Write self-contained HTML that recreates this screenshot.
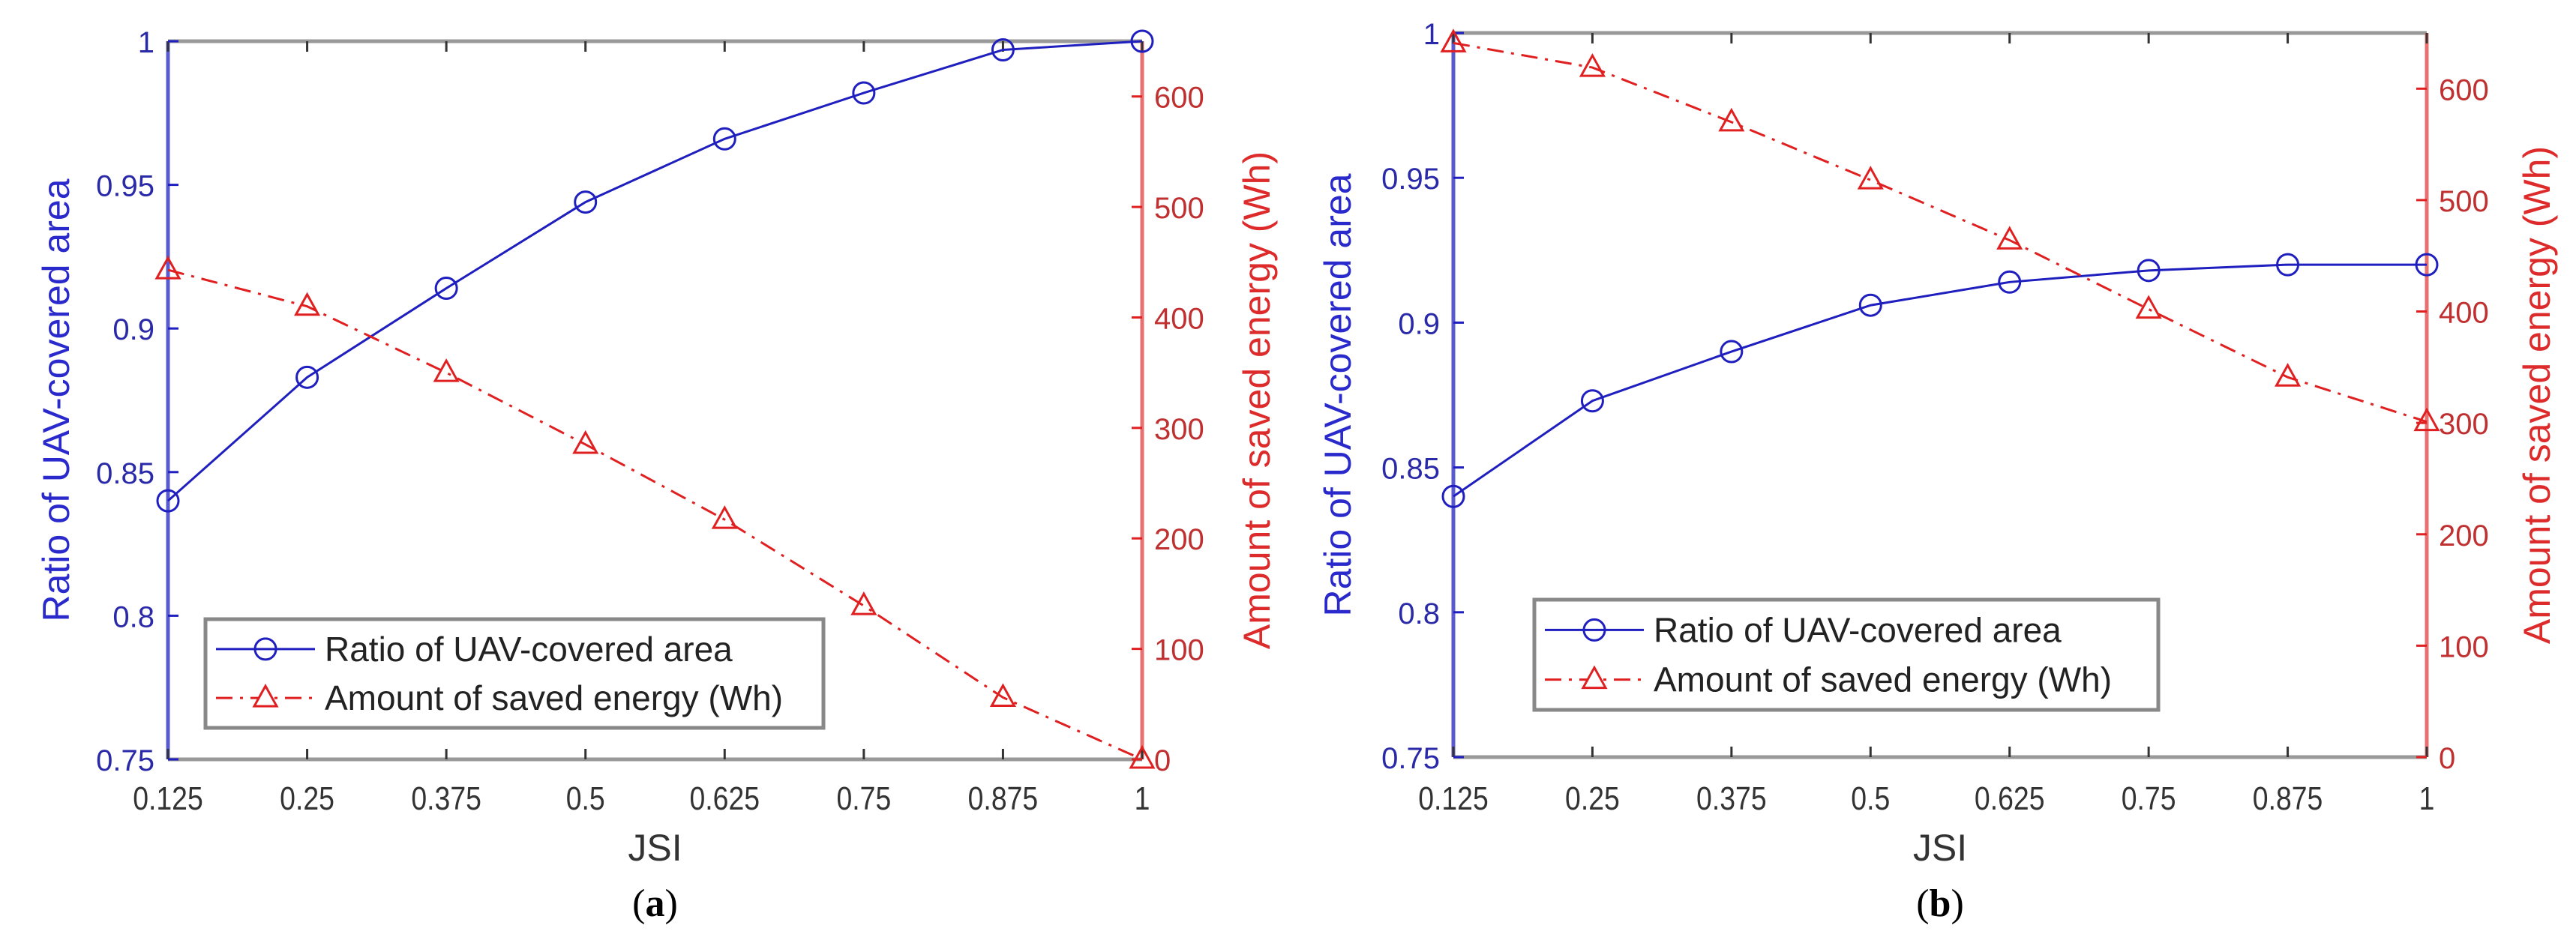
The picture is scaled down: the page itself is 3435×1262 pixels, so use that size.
<!DOCTYPE html>
<html><head><meta charset="utf-8"><style>
html,body{margin:0;padding:0;background:#fff;}
svg{display:block;font-family:"Liberation Sans",sans-serif;}
</style></head><body>
<svg id="fig" width="3435" height="1262" viewBox="0 0 3435 1262" xmlns="http://www.w3.org/2000/svg"></svg>
<script>
const categories = [0.125,0.25,0.375,0.5,0.625,0.75,0.875,1];
const xTickLabels = ["0.125","0.25","0.375","0.5","0.625","0.75","0.875","1"];
const leftTicks = [0.75,0.8,0.85,0.9,0.95,1];
const leftTickLabels = ["0.75","0.8","0.85","0.9","0.95","1"];
const rightTicks = [0,100,200,300,400,500,600];
const ratioA = [0.84,0.883,0.914,0.944,0.966,0.982,0.997,1.0];
const energyA = [443,410,350,285,217,139,56,0];
const ratioB = [0.84,0.873,0.89,0.906,0.914,0.918,0.92,0.92];
const energyB = [641,619,570,518,464,402,341,301];

const NS="http://www.w3.org/2000/svg";
const svg=document.getElementById('fig');
function mk(tag,attrs,parent,text){const e=document.createElementNS(NS,tag);for(const k in attrs)e.setAttribute(k,attrs[k]);if(text!==undefined)e.textContent=text;(parent||svg).appendChild(e);return e;}
const BLUE="#1f1fbf", RED="#e02020", LBLUE="#5a5ad0", LRED="#e87070";

function panel(id,x0,x1,y0,y1,ratio,energy,leg,labs,cap){
  const g=mk('g',{});
  
  
  const sx=v=>x0+(v-0.125)/(1-0.125)*(x1-x0);
  const sy=v=>y1-(v-0.75)/0.25*(y1-y0);
  const sr=v=>y1-v/650*(y1-y0);
  const top=mk('line',{x1:x0,y1:y0,x2:x1,y2:y0,stroke:"#999",'stroke-width':5},g);
  
  const bot=mk('line',{x1:x0,y1:y1,x2:x1,y2:y1,stroke:"#999",'stroke-width':5},g);
  
  const la=mk('line',{x1:x0,y1:y0,x2:x0,y2:y1,stroke:LBLUE,'stroke-width':5},g);
  
  const ra=mk('line',{x1:x1,y1:y0,x2:x1,y2:y1,stroke:LRED,'stroke-width':5},g);
  
  categories.forEach((c,i)=>{
    const X=sx(c);
    mk('line',{x1:X,y1:y1,x2:X,y2:y1-14,stroke:"#333",'stroke-width':3},g);
    mk('line',{x1:X,y1:y0,x2:X,y2:y0+14,stroke:"#333",'stroke-width':3},g);
    const t=mk('text',{x:X,y:1080,'font-size':44,fill:"#333",'text-anchor':'middle',transform:`translate(${X},0) scale(0.85,1) translate(${-X},0)`},g,xTickLabels[i]);
    
  });
  leftTicks.forEach((v,i)=>{
    const Y=sy(v);
    mk('line',{x1:x0,y1:Y,x2:x0+14,y2:Y,stroke:BLUE,'stroke-width':3},g);
    const t=mk('text',{x:x0-18,y:Y+15,'font-size':40,fill:"#2a2aa8",'text-anchor':'end'},g,leftTickLabels[i]);
    
  });
  rightTicks.forEach(v=>{
    const Y=sr(v);
    mk('line',{x1:x1,y1:Y,x2:x1-14,y2:Y,stroke:RED,'stroke-width':3},g);
    const t=mk('text',{x:x1+16,y:Y+15,'font-size':40,fill:"#c03030",'text-anchor':'start'},g,String(v));
    
  });
  const bl=mk('polyline',{points:categories.map((c,i)=>sx(c)+','+sy(ratio[i])).join(' '),fill:'none',stroke:BLUE,'stroke-width':3},g);
  
  const rl=mk('polyline',{points:categories.map((c,i)=>sx(c)+','+sr(energy[i])).join(' '),fill:'none',stroke:RED,'stroke-width':3,'stroke-dasharray':'22,10,4,10'},g);
  
  categories.forEach((c,i)=>{
    const m=mk('circle',{cx:sx(c),cy:sy(ratio[i]),r:14,fill:'none',stroke:BLUE,'stroke-width':3},g);
    
    const X=sx(c),Y=sr(energy[i]);
    const p=mk('polygon',{points:`${X},${Y-16} ${X-15},${Y+11} ${X+15},${Y+11}`,fill:'none',stroke:RED,'stroke-width':3},g);
    
  });
  const lg=mk('g',{},g);
  
  mk('rect',{x:leg[0],y:leg[1],width:leg[2]-leg[0],height:leg[3]-leg[1],fill:'#fff',stroke:'#888','stroke-width':5},lg);
  const rowH=(leg[3]-leg[1])/2, lx=leg[0]+14, mx=leg[0]+80;
  const r1=leg[1]+rowH*0.55, r2=leg[1]+rowH*1.45;
  mk('line',{x1:lx,y1:r1,x2:lx+132,y2:r1,stroke:BLUE,'stroke-width':3},lg);
  mk('circle',{cx:mx,cy:r1,r:14,fill:'none',stroke:BLUE,'stroke-width':3},lg);
  mk('line',{x1:lx,y1:r2,x2:lx+132,y2:r2,stroke:RED,'stroke-width':3,'stroke-dasharray':'22,10,4,10'},lg);
  mk('polygon',{points:`${mx},${r2-16} ${mx-15},${r2+11} ${mx+15},${r2+11}`,fill:'#fff',stroke:RED,'stroke-width':3},lg);
  const e1=mk('text',{x:lx+145,y:r1+16,'font-size':46,fill:'#222'},lg,'Ratio of UAV-covered area');
  
  const e2=mk('text',{x:lx+145,y:r2+16,'font-size':46,fill:'#222'},lg,'Amount of saved energy (Wh)');
  
  const yl=mk('text',{x:labs[0],y:(y0+y1)/2,'font-size':50,fill:'#2a2acc','text-anchor':'middle',transform:`rotate(-90 ${labs[0]} ${(y0+y1)/2})`,dy:18},g,'Ratio of UAV-covered area');
  
  const yr=mk('text',{x:labs[1],y:(y0+y1)/2,'font-size':50,fill:'#dd2a2a','text-anchor':'middle',transform:`rotate(-90 ${labs[1]} ${(y0+y1)/2})`,dy:18},g,'Amount of saved energy (Wh)');
  
  const xl=mk('text',{x:(x0+x1)/2,y:1148,'font-size':50,fill:'#333','text-anchor':'middle'},g,'JSI');
  
  const cp=mk('text',{x:(x0+x1)/2,y:1222,'font-size':52,fill:'#000','text-anchor':'middle','font-family':'"Liberation Serif",serif'},g);
  
  mk('tspan',{},cp,'(');mk('tspan',{'font-weight':'bold'},cp,cap);mk('tspan',{},cp,')');
}
panel('a',224,1523,55,1013,ratioA,energyA,[274,826,1098,971],[74,1675],'a');
panel('b',1938,3236,44,1010,ratioB,energyB,[2046,800,2878,947],[1783,3382],'b');
</script>
</body></html>
